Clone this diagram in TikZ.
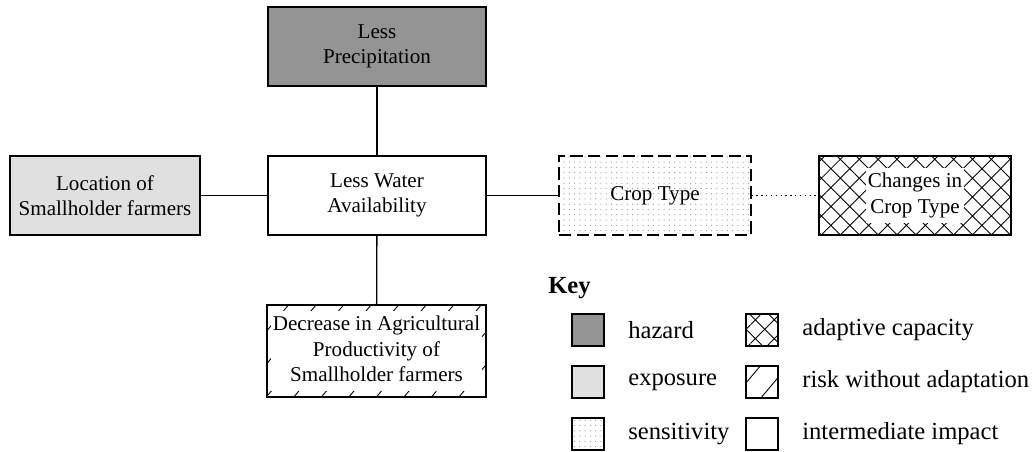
\documentclass[tikz,border=0pt]{standalone}
\usepackage{fontspec}
\setmainfont{Liberation Serif}
\usetikzlibrary{patterns.meta, positioning}
\definecolor{hazardgray}{gray}{0.58}
\definecolor{exposuregray}{gray}{0.88}
\newcommand{\clearbg}[1]{{\setlength{\fboxsep}{1pt}\colorbox{white}{\begin{tabular}{@{}c@{}}#1\end{tabular}}}}
\tikzset{
    box/.style={rectangle, draw=black, line width=0.75pt, minimum width=4.36cm, minimum height=1.58cm, text centered, align=center, inner sep=2pt, font=\fontsize{12}{14.5}\selectfont},
    hazard/.style={box, fill=hazardgray},
    exposure/.style={box, fill=exposuregray, minimum width=3.8cm},
    impact/.style={box, fill=white},
    sensitivity/.style={box, pattern={Dots[distance=3pt, radius=0.35pt]}, pattern color=gray!80, minimum width=3.84cm},
    adaptive/.style={box, pattern={Hatch[angle=45, distance=7.6pt, line width=0.5pt]}, minimum width=3.84cm},
    risk/.style={box, pattern={Lines[angle=50, distance=12pt, line width=0.5pt]}, minimum width=4.38cm, minimum height=1.84cm},
    keybox/.style={minimum width=0.64cm, minimum height=0.64cm, inner sep=0pt},
    keytext/.style={anchor=west, inner sep=0pt, font=\fontsize{14}{16}\selectfont},
    link/.style={line width=0.75pt}
}

\begin{document}
\begin{tikzpicture}[x=0.02cm, y=-0.02cm]
\useasboundingbox (0,0) rectangle (1035,452);

% Nodes
\node (precip) [hazard] at (377,46.5) {Less\\Precipitation};
\node (water) [impact] at (377,195.5) {Less Water\\Availability};
\node (location) [exposure] at (105,195.5) {Location of\\Smallholder farmers};
\node (crop) [sensitivity, dash pattern=on 7pt off 3pt] at (655,195.5) {Crop Type};
\node (changes) [adaptive] at (915,195.5) {\clearbg{Changes in\\Crop Type}};
\node (decrease) [risk] at (376.5,351) {\clearbg{Decrease in Agricultural\\Productivity of\\Smallholder farmers}};

% Key
\node (key) [keytext, font=\fontsize{14}{16}\selectfont\bfseries] at (548,288) {Key};
\node (khazard) [hazard, keybox] at (588,330) {};
\node (kexposure) [exposure, keybox] at (588,382) {};
\node (ksensitivity) [sensitivity, keybox] at (588,434) {};
\node (kadaptive) [adaptive, keybox] at (762,330) {};
\node (krisk) [risk, keybox] at (762,382) {};
\node (kimpact) [impact, keybox] at (762,434) {};
\node [keytext] at (628,330) {hazard};
\node [keytext] at (628,382) {exposure};
\node [keytext] at (628,434) {sensitivity};
\node [keytext] at (802,330) {adaptive capacity};
\node [keytext] at (802,382) {risk without adaptation};
\node [keytext] at (802,434) {intermediate impact};

% Links
\draw [link] (precip) -- (water);
\draw [link] (location) -- (water);
\draw [link] (water) -- (crop);
\draw [link, dotted] (crop) -- (changes);
\draw [link] (water) -- (decrease);

\end{tikzpicture}
\end{document}
